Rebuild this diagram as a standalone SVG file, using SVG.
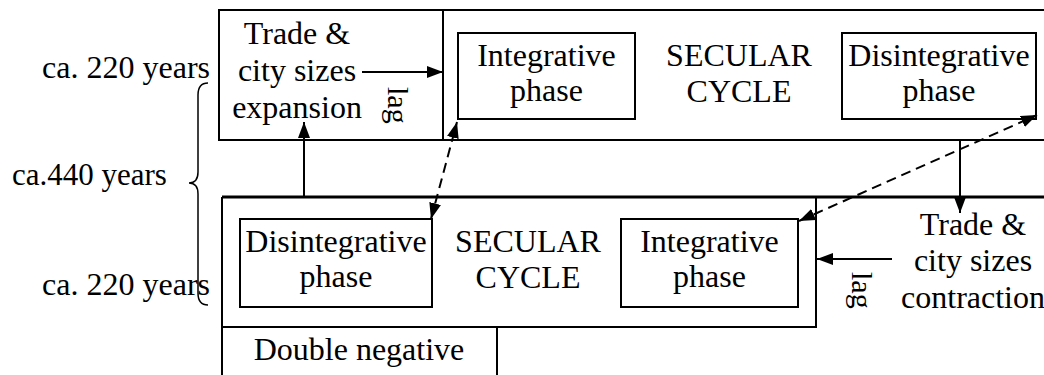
<svg xmlns="http://www.w3.org/2000/svg" width="1044" height="375" viewBox="0 0 1044 375" font-family="'Liberation Serif', 'DejaVu Serif', serif">
<style>
text{font-family:'Liberation Serif','DejaVu Serif',serif;font-size:32px;fill:#000}
.m{text-anchor:middle}
.e{text-anchor:end}
.lag{font-size:30px}
.box{fill:none;stroke:#000;stroke-width:2}
.ln{fill:none;stroke:#000;stroke-width:2}
.dash{fill:none;stroke:#000;stroke-width:2;stroke-dasharray:10 6}
</style>
<defs>
<marker id="ah" viewBox="0 0 16 12" refX="16" refY="6" markerWidth="16" markerHeight="12" markerUnits="userSpaceOnUse" orient="auto-start-reverse">
<path d="M0,0 L16,6 L0,12 z" fill="#000"/>
</marker>
</defs>
<rect width="1044" height="375" fill="#fff"/>

<g id="top-row">
<path class="box" d="M1045,10 H219 V140 H1045"/>
</g>
<g id="trade-expansion">
<line class="ln" x1="443" y1="10" x2="443" y2="140"/>
<text class="m" x="297" y="44">Trade &amp;</text>
<text class="m" x="297" y="81">city sizes</text>
<text class="m" x="297" y="118">expansion</text>
</g>
<g id="top-cycle">
<text class="m" x="739" y="66">SECULAR</text>
<text class="m" x="739" y="102">CYCLE</text>
</g>
<g id="top-integrative">
<rect class="box" x="458" y="33" width="177" height="86"/>
<text class="m" x="546.5" y="66">Integrative</text>
<text class="m" x="546.5" y="101">phase</text>
</g>
<g id="top-disintegrative">
<rect class="box" x="842" y="33" width="194" height="86"/>
<text class="m" x="939" y="66">Disintegrative</text>
<text class="m" x="939" y="101">phase</text>
</g>

<g id="bottom-row">
<line x1="222" y1="197" x2="1045" y2="197" stroke="#000" stroke-width="3"/>
<path class="box" d="M222,197 V375"/>
<path class="box" d="M222,327 H816 V197"/>
</g>
<g id="bottom-cycle">
<text class="m" x="528" y="252">SECULAR</text>
<text class="m" x="528" y="288">CYCLE</text>
</g>
<g id="bottom-disintegrative">
<rect class="box" x="240" y="219" width="192" height="88"/>
<text class="m" x="336" y="252">Disintegrative</text>
<text class="m" x="336" y="287">phase</text>
</g>
<g id="bottom-integrative">
<rect class="box" x="621" y="219" width="177" height="88"/>
<text class="m" x="709.5" y="252">Integrative</text>
<text class="m" x="709.5" y="287">phase</text>
</g>
<g id="double-negative">
<path class="box" d="M497,327 V376"/>
<text class="m" x="359" y="360">Double negative</text>
</g>
<g id="trade-contraction">
<text class="m" x="973" y="235">Trade &amp;</text>
<text class="m" x="973" y="271">city sizes</text>
<text class="m" x="973" y="308">contraction</text>
</g>

<g id="labels">
<text class="e" x="210" y="78">ca. 220 years</text>
<text x="12" y="185" style="font-size:31px">ca.440 years</text>
<text class="e" x="210" y="295">ca. 220 years</text>
<path d="M208,83 C200,83 198,88 198,95 L198,172 C198,179 195,183 189,183 C195,183 198,187 198,194 L198,293 C198,300 200,305 208,305" fill="none" stroke="#000" stroke-width="1.5"/>
<text class="lag" transform="translate(388,87) rotate(90)">lag</text>
<text class="lag" transform="translate(852,272) rotate(90)">lag</text>
</g>

<g id="connectors">
<line class="ln" x1="362" y1="72" x2="443" y2="72" marker-end="url(#ah)"/>
<line class="ln" x1="304" y1="197" x2="304" y2="122" marker-end="url(#ah)"/>
<line class="ln" x1="960" y1="140" x2="960" y2="213" marker-end="url(#ah)"/>
<line class="ln" x1="892" y1="259" x2="817" y2="259" marker-end="url(#ah)"/>
<line class="dash" x1="431" y1="219" x2="457" y2="122" marker-start="url(#ah)" marker-end="url(#ah)"/>
<line class="dash" x1="799" y1="221" x2="1037" y2="115" marker-start="url(#ah)" marker-end="url(#ah)"/>
</g>
</svg>
